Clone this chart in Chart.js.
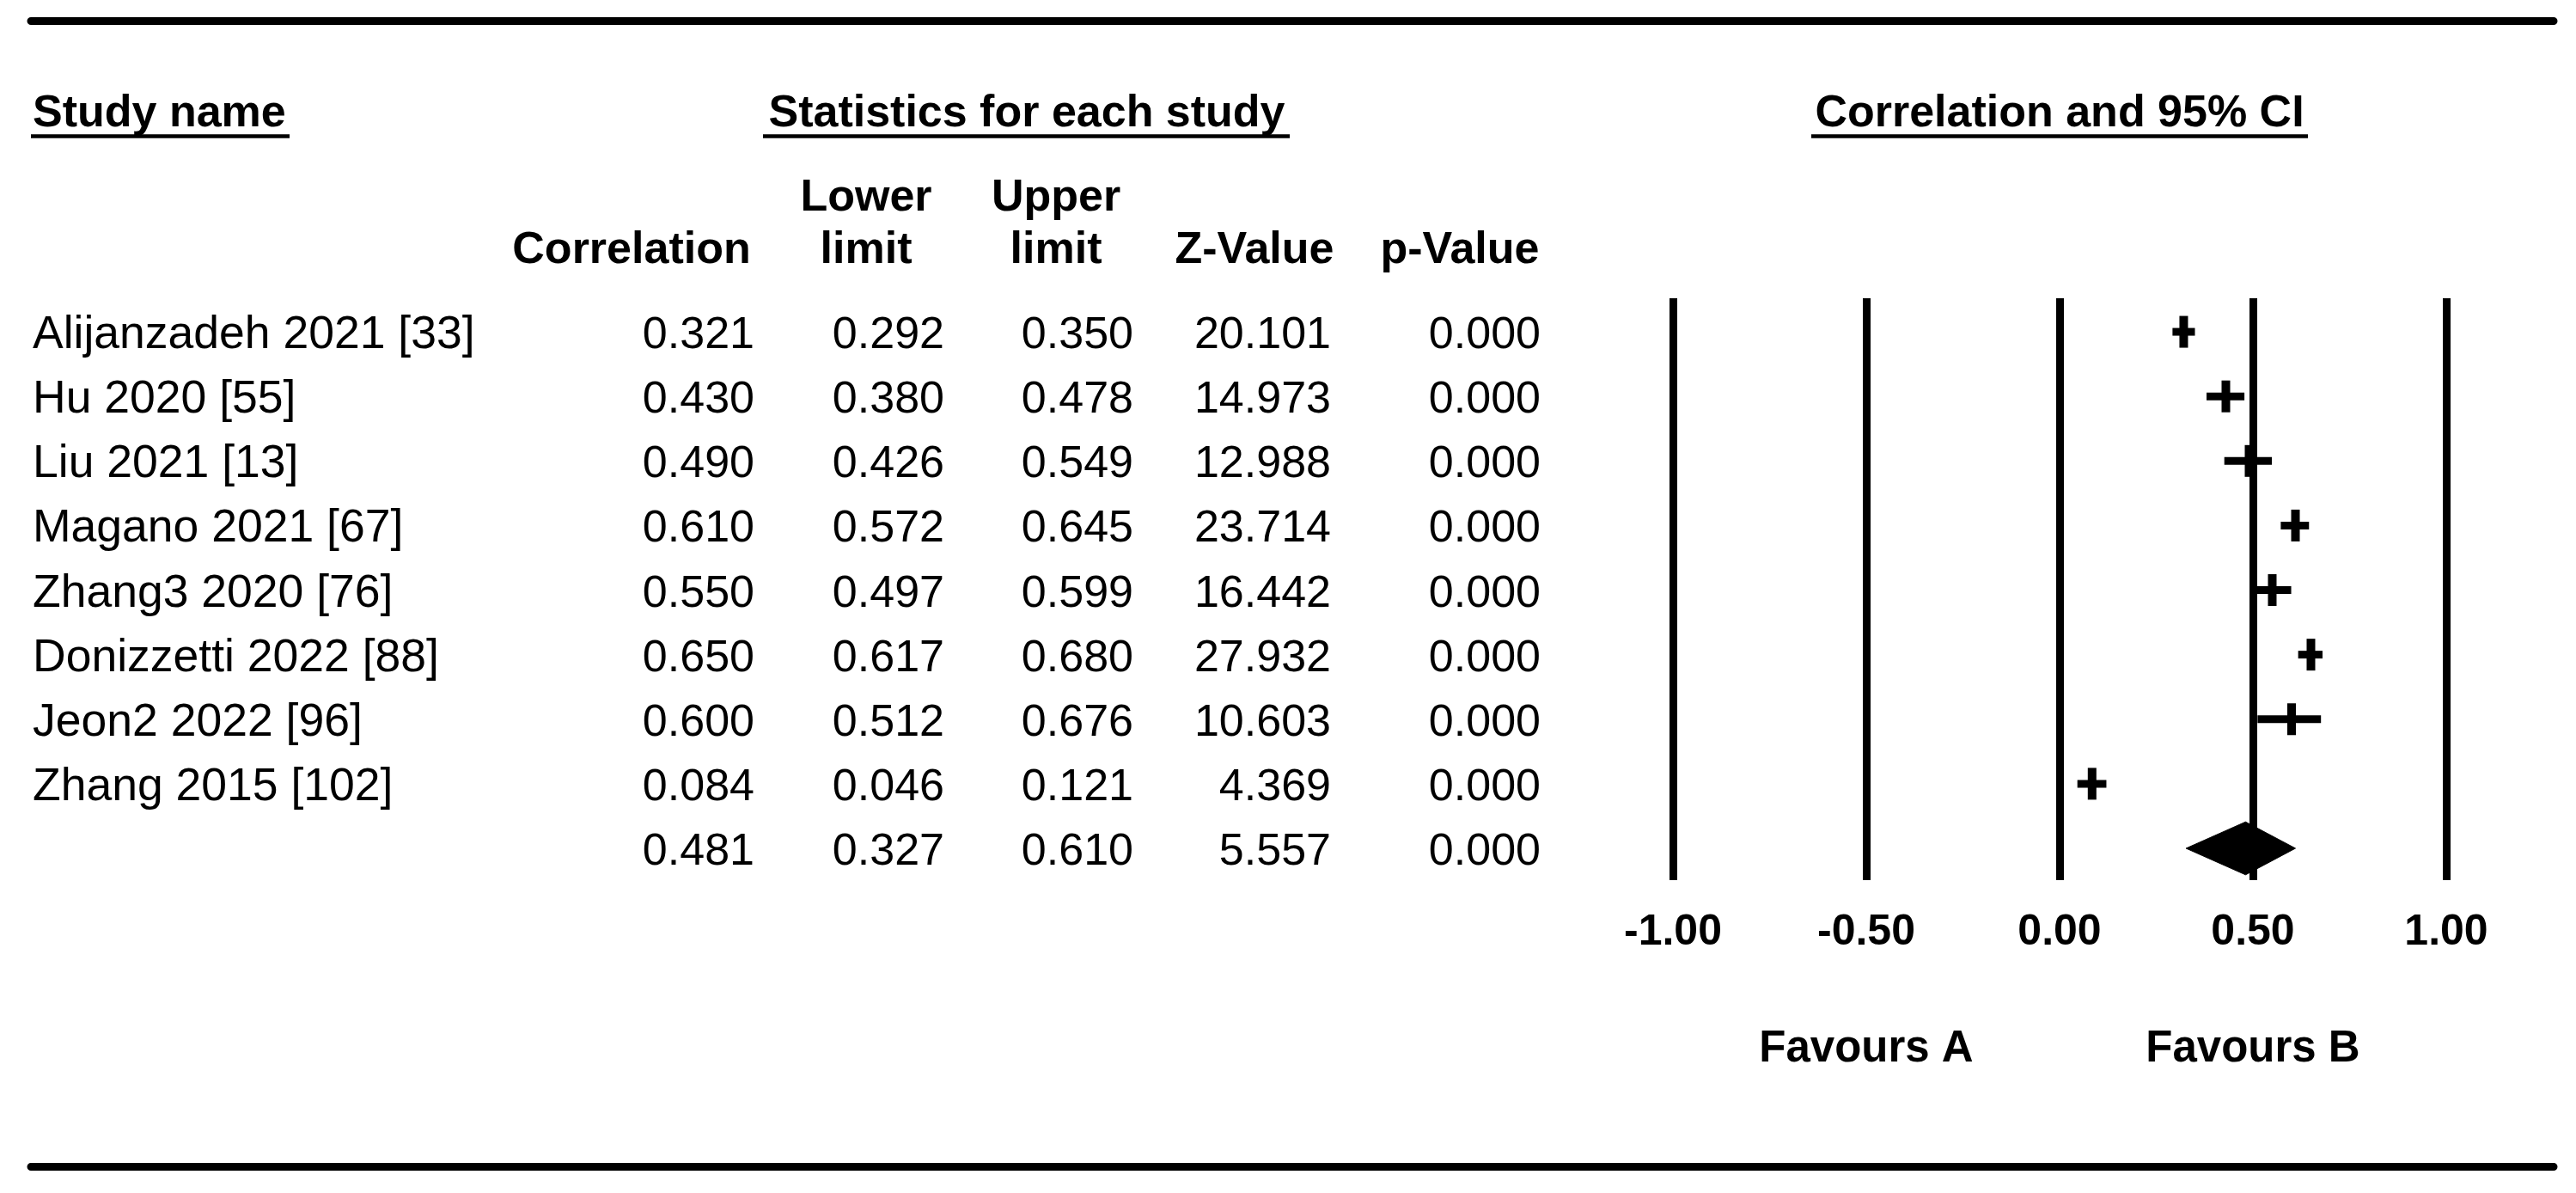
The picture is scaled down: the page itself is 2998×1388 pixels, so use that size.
<!DOCTYPE html>
<html>
<head>
<meta charset="utf-8">
<script src="https://cdn.jsdelivr.net/npm/chart.js@4.4.1/dist/chart.umd.min.js"></script>
<style>
  html, body { margin: 0; padding: 0; background: #fff; }
  #forest { display: block; width: 2998px; height: 1388px; }
</style>
</head>
<body>
<canvas id="forest" width="2998" height="1388"></canvas>
<script>
// study rows
var studies = [
  "Alijanzadeh 2021 [33]",
  "Hu 2020 [55]",
  "Liu 2021 [13]",
  "Magano 2021 [67]",
  "Zhang3 2020 [76]",
  "Donizzetti 2022 [88]",
  "Jeon2 2022 [96]",
  "Zhang 2015 [102]"
];
var correlation = [0.321, 0.430, 0.490, 0.610, 0.550, 0.650, 0.600, 0.084];
var lowerLimit  = [0.292, 0.380, 0.426, 0.572, 0.497, 0.617, 0.512, 0.046];
var upperLimit  = [0.350, 0.478, 0.549, 0.645, 0.599, 0.680, 0.676, 0.121];
var zValue      = [20.101, 14.973, 12.988, 23.714, 16.442, 27.932, 10.603, 4.369];
var pValue      = [0.000, 0.000, 0.000, 0.000, 0.000, 0.000, 0.000, 0.000];

// pooled estimate: correlation, lower, upper, z, p
var summary = [0.481, 0.327, 0.610, 5.557, 0.000];

var xTicks = [-1.00, -0.50, 0.00, 0.50, 1.00];
var favours = ["Favours A", "Favours B"];

var FONT = "'Liberation Sans', Arial, Helvetica, sans-serif";
var summaryRow = studies.length;

// confidence interval lines, one dataset per study
var ciSets = studies.map(function (s, i) {
  return {
    label: s,
    showLine: true,
    data: [{ x: lowerLimit[i], y: i }, { x: upperLimit[i], y: i }],
    borderColor: "#000",
    borderWidth: 9,
    pointRadius: 0,
    order: 2
  };
});

var pointSet = {
  label: "Correlation",
  data: correlation.map(function (c, i) { return { x: c, y: i }; }),
  pointStyle: "line",
  rotation: 90,
  pointRadius: 18.5,
  pointBorderWidth: 10,
  borderColor: "#000",
  backgroundColor: "#000",
  order: 1
};

var dh = 0.41; // half height of diamond, in rows
var diamondSet = {
  label: "Summary",
  showLine: true,
  data: [
    { x: summary[1], y: summaryRow },
    { x: summary[0], y: summaryRow - dh },
    { x: summary[2], y: summaryRow },
    { x: summary[0], y: summaryRow + dh },
    { x: summary[1], y: summaryRow }
  ],
  borderColor: "#000",
  borderWidth: 1,
  backgroundColor: "#000",
  fill: "shape",
  pointRadius: 0,
  tension: 0,
  order: 0
};

function fmt3(v) { return v.toFixed(3); }

var tablePlugin = {
  id: "forestTable",
  afterDraw: function (chart) {
    var ctx = chart.ctx;
    var ys = chart.scales.y;
    var xs = chart.scales.x;
    ctx.save();
    ctx.fillStyle = "#000";
    ctx.strokeStyle = "#000";

    // heavy rules top and bottom
    ctx.lineCap = "round";
    ctx.lineWidth = 9;
    ctx.beginPath();
    ctx.moveTo(36, 24.5); ctx.lineTo(2972, 24.5);
    ctx.moveTo(36, 1357.5); ctx.lineTo(2972, 1357.5);
    ctx.stroke();

    // group headers
    ctx.font = "bold 52px " + FONT;
    ctx.textBaseline = "alphabetic";
    ctx.textAlign = "left";
    ctx.fillText("Study name", 38, 147);
    ctx.textAlign = "center";
    ctx.fillText("Statistics for each study", 1195, 147);
    var cx = xs.getPixelForValue(0);
    ctx.fillText("Correlation and 95% CI", cx, 147);

    ctx.lineCap = "butt";
    ctx.lineWidth = 4.5;
    ctx.beginPath();
    ctx.moveTo(36, 158.5); ctx.lineTo(337, 158.5);
    ctx.moveTo(888, 158.5); ctx.lineTo(1501, 158.5);
    ctx.moveTo(cx - 289, 158.5); ctx.lineTo(cx + 289, 158.5);
    ctx.stroke();

    // column headers
    var colCenter = [735, 1008, 1229, 1460, 1699];
    var colRight = [878, 1099, 1319, 1549, 1793];
    ctx.fillText("Lower", colCenter[1], 245);
    ctx.fillText("Upper", colCenter[2], 245);
    ctx.fillText("Correlation", colCenter[0], 306);
    ctx.fillText("limit", colCenter[1], 306);
    ctx.fillText("limit", colCenter[2], 306);
    ctx.fillText("Z-Value", colCenter[3], 306);
    ctx.fillText("p-Value", colCenter[4], 306);

    // rows
    studies.forEach(function (name, i) {
      var yy = ys.getPixelForValue(i) + 19;
      ctx.font = "53.5px " + FONT;
      ctx.textAlign = "left";
      ctx.fillText(name, 38, yy);
      ctx.font = "52px " + FONT;
      ctx.textAlign = "right";
      var vals = [correlation[i], lowerLimit[i], upperLimit[i], zValue[i], pValue[i]];
      vals.forEach(function (v, c) { ctx.fillText(fmt3(v), colRight[c], yy); });
    });
    var ySum = ys.getPixelForValue(summaryRow) + 19;
    ctx.textAlign = "right";
    summary.forEach(function (v, c) { ctx.fillText(fmt3(v), colRight[c], ySum); });

    // favours labels
    ctx.font = "bold 51px " + FONT;
    ctx.textAlign = "center";
    ctx.fillText(favours[0], xs.getPixelForValue(-0.5), 1235);
    ctx.fillText(favours[1], xs.getPixelForValue(0.5), 1235);
    ctx.restore();
  }
};

var ctx = document.getElementById("forest").getContext("2d");
var forestChart = new Chart(ctx, {
  type: "scatter",
  data: { datasets: ciSets.concat([pointSet, diamondSet]) },
  options: {
    responsive: false,
    devicePixelRatio: 1,
    animation: false,
    events: [],
    layout: { padding: { left: 1947, right: 151, top: 347, bottom: 264 } },
    plugins: { legend: { display: false }, tooltip: { enabled: false } },
    scales: {
      x: {
        type: "linear",
        min: -1,
        max: 1,
        afterBuildTicks: function (scale) {
          scale.ticks = xTicks.map(function (v) { return { value: v }; });
        },
        afterFit: function (scale) { scale.height = 100; },
        ticks: {
          autoSkip: false,
          maxRotation: 0,
          padding: 31,
          color: "#000",
          font: { family: FONT, size: 50, weight: "bold" },
          callback: function (v) { return Number(v).toFixed(2); }
        },
        grid: { color: "#000", lineWidth: 9, drawTicks: false },
        border: { display: false }
      },
      y: {
        type: "linear",
        display: false,
        reverse: true,
        min: -0.52,
        max: 8.4925
      }
    }
  },
  plugins: [tablePlugin]
});
</script>
</body>
</html>
